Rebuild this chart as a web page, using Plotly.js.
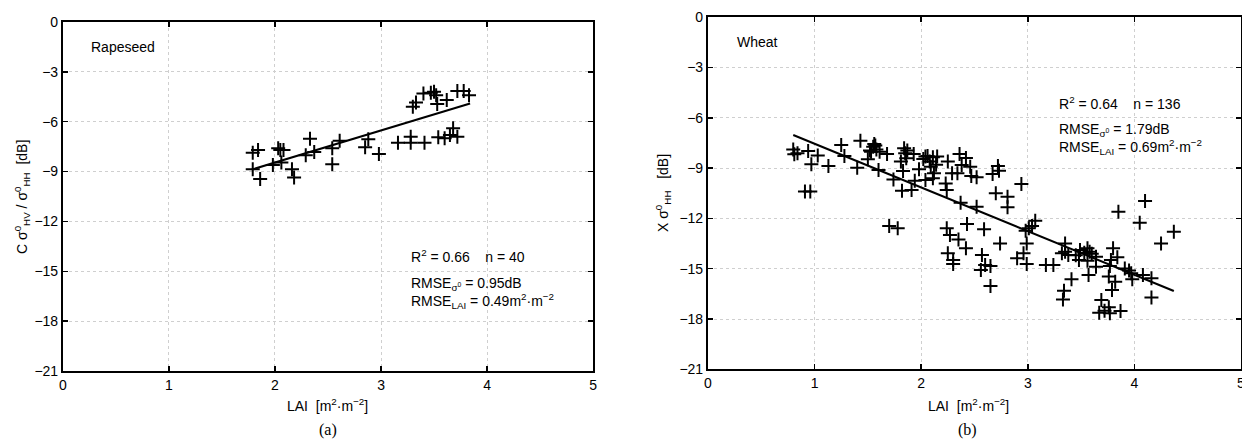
<!DOCTYPE html>
<html>
<head>
<meta charset="utf-8">
<script src="https://cdn.plot.ly/plotly-3.0.1.min.js"></script>
<style>html,body{margin:0;padding:0;background:#fff;}#chart{width:1242px;height:441px;}</style>
</head>
<body>
<div id="chart"></div>
<script>
// ---------- Data ----------
const xTicks = [0, 1, 2, 3, 4, 5];
const yTicks = [0, -3, -6, -9, -12, -15, -18, -21];

// (a) Rapeseed: LAI vs C-band cross ratio
const rapeLAI = [1.79,1.84,1.79,1.86,1.98,2.03,2.05,2.08,2.06,2.16,2.18,2.33,2.29,2.37,2.54,2.54,2.61,2.85,2.88,2.98,
  3.16,3.28,3.28,3.30,3.33,3.41,3.53,3.54,3.40,3.50,3.52,3.62,3.72,3.78,3.83,3.65,3.68,3.72,3.60,3.47];
const rapeCR = [-7.86,-7.70,-8.86,-9.45,-8.60,-7.60,-7.70,-7.70,-8.46,-8.86,-9.35,-7.02,-8.02,-7.82,-7.60,-8.56,-7.14,-7.54,-7.06,-7.94,
  -7.26,-6.90,-7.26,-5.10,-4.85,-7.26,-4.93,-6.94,-4.30,-4.20,-4.40,-4.70,-4.15,-4.15,-4.40,-6.80,-6.40,-6.90,-7.00,-4.25];
const rapeFitLAI = [1.78, 3.84];
const rapeFitCR = [-8.88, -4.90];

// (b) Wheat: LAI vs X-band HH
const wheatLAI = [0.80,0.81,0.84,0.94,1.03,0.97,0.91,0.96,1.13,1.25,1.28,1.43,1.40,1.50,1.53,1.55,1.58,1.61,1.56,1.68,
  1.60,1.74,1.82,1.84,1.85,1.86,1.81,1.93,1.83,1.91,1.94,1.70,1.78,2.04,1.98,2.04,
  2.06,2.11,2.15,2.09,2.12,2.11,2.23,2.24,2.25,2.36,2.38,2.29,2.34,2.46,2.47,2.52,2.37,2.52,2.67,2.72,2.73,2.70,2.81,2.81,
  2.94,2.24,2.27,2.35,2.43,2.42,2.59,2.25,2.30,2.30,2.57,2.56,2.60,2.65,2.65,2.74,2.90,2.96,2.99,2.99,2.98,3.01,3.04,3.07,3.17,3.24,
  3.85,4.10,4.05,4.25,4.37,3.35,3.35,3.32,3.38,3.41,3.34,3.33,3.49,3.48,3.56,3.58,3.56,3.57,3.64,3.64,3.69,3.67,3.76,3.77,3.87,
  3.80,3.84,3.78,3.77,3.76,3.82,3.79,3.91,3.97,3.98,4.08,4.16,4.16,
  1.52,1.57,2.02,2.08,3.53,3.45,2.14,3.72,1.87,3.60,2.42,3.95];
const wheatHH = [-7.88,-8.17,-8.11,-7.98,-8.24,-8.77,-10.40,-10.40,-8.87,-7.62,-8.28,-7.36,-8.97,-8.47,-8.02,-7.72,-7.88,-8.02,-7.56,-8.16,
  -9.11,-9.67,-10.35,-7.82,-8.11,-8.41,-8.61,-8.16,-9.17,-10.31,-9.75,-12.45,-12.59,-8.31,-9.07,-9.71,
  -8.28,-8.35,-8.31,-8.91,-9.31,-9.61,-9.91,-10.31,-8.61,-8.16,-8.81,-9.31,-9.31,-8.91,-9.47,-9.55,-11.06,-11.30,-9.35,-8.87,-9.15,-10.50,-10.70,-11.34,
  -9.95,-12.59,-12.99,-13.25,-12.33,-13.78,-12.65,-14.08,-14.48,-14.72,-14.18,-15.08,-14.78,-14.84,-16.03,-13.49,-14.38,-14.08,-14.72,-13.49,-12.73,-12.59,-12.45,-12.14,-14.78,-14.78,
  -11.60,-10.96,-12.26,-13.49,-12.79,-13.49,-13.99,-14.08,-14.18,-15.63,-16.31,-16.83,-13.89,-14.48,-13.78,-13.99,-14.52,-15.38,-14.28,-14.88,-16.87,-17.62,-17.30,-17.66,-17.52,
  -13.78,-14.32,-14.48,-14.84,-15.47,-15.78,-16.27,-14.98,-15.27,-15.63,-15.38,-15.57,-16.71,
  -7.95,-7.65,-8.45,-8.60,-14.05,-14.20,-8.80,-17.50,-7.95,-14.10,-8.40,-15.10];
const wheatFitLAI = [0.80, 4.37];
const wheatFitHH = [-7.02, -16.33];

// ---------- Styling ----------
const FONT = '"Liberation Sans", Arial, sans-serif';
const markerStyle = {symbol: 'cross-thin', size: 10, color: '#000', line: {width: 2, color: '#000'}};
const SP = '\u00a0\u00a0\u00a0\u00a0';

function axis(extra) {
  return Object.assign({
    showgrid: true, gridcolor: '#cfcfcf', griddash: 'dot', gridwidth: 1,
    zeroline: false, showline: true, linecolor: '#000', linewidth: 2, mirror: 'ticks',
    ticks: 'inside', ticklen: 5, tickwidth: 1.5, tickcolor: '#000',
    tickfont: {family: FONT, size: 14, color: '#000'}, fixedrange: true,
    ticklabeloverflow: 'allow'
  }, extra);
}

const traces = [
  {x: rapeLAI, y: rapeCR, mode: 'markers', marker: markerStyle, xaxis: 'x', yaxis: 'y', hoverinfo: 'skip'},
  {x: rapeFitLAI, y: rapeFitCR, mode: 'lines', line: {color: '#000', width: 2}, xaxis: 'x', yaxis: 'y', hoverinfo: 'skip'},
  {x: wheatLAI, y: wheatHH, mode: 'markers', marker: markerStyle, xaxis: 'x2', yaxis: 'y2', hoverinfo: 'skip'},
  {x: wheatFitLAI, y: wheatFitHH, mode: 'lines', line: {color: '#000', width: 2}, xaxis: 'x2', yaxis: 'y2', hoverinfo: 'skip'}
];

const txt = {family: FONT, size: 14, color: '#000'};
function ann(text, x, y, xref, yref, extra) {
  return Object.assign({text: text, x: x, y: y, xref: xref, yref: yref, showarrow: false,
    xanchor: 'left', yanchor: 'middle', font: txt, align: 'left'}, extra || {});
}
const serif = {family: '"Liberation Serif", "Times New Roman", serif', size: 16, color: '#000'};

const layout = {
  width: 1242, height: 441,
  margin: {l: 0, r: 0, t: 0, b: 0},
  paper_bgcolor: '#fff', plot_bgcolor: '#fff',
  showlegend: false,
  xaxis: axis({domain: [0.0507, 0.4775], range: [0, 5], tickvals: xTicks, anchor: 'y'}),
  yaxis: axis({domain: [0.1587, 0.9501], range: [-21, 0], tickvals: yTicks, anchor: 'x'}),
  xaxis2: axis({domain: [0.5700, 0.9992], range: [0, 5], tickvals: xTicks, anchor: 'y2'}),
  yaxis2: axis({domain: [0.1626, 0.9608], range: [-21, 0], tickvals: yTicks, anchor: 'x2'}),
  annotations: [
    ann('Rapeseed', 0.25, -1.5, 'x', 'y'),
    ann('R<sup>2</sup> = 0.66' + SP + 'n = 40', 3.26, -14.1, 'x', 'y'),
    ann('RMSE<sub>σ<sup>0</sup></sub> = 0.95dB', 3.26, -15.75, 'x', 'y'),
    ann('RMSE<sub>LAI</sub> = 0.49m<sup>2</sup>·m<sup>−2</sup>', 3.26, -16.8, 'x', 'y'),
    ann('Wheat', 0.25, -1.5, 'x2', 'y2'),
    ann('R<sup>2</sup> = 0.64' + SP + 'n = 136', 3.27, -5.1, 'x2', 'y2'),
    ann('RMSE<sub>σ<sup>0</sup></sub> = 1.79dB', 3.27, -6.7, 'x2', 'y2'),
    ann('RMSE<sub>LAI</sub> = 0.69m<sup>2</sup>·m<sup>−2</sup>', 3.27, -7.75, 'x2', 'y2'),
    // axis titles
    ann('LAI\u00a0\u00a0[m<sup>2</sup>·m<sup>−2</sup>]', 327/1242, 1 - 405/441, 'paper', 'paper', {xanchor: 'center'}),
    ann('LAI\u00a0\u00a0[m<sup>2</sup>·m<sup>−2</sup>]', 968/1242, 1 - 405/441, 'paper', 'paper', {xanchor: 'center'}),
    ann('C σ<sup>0</sup><sub>HV</sub> / σ<sup>0</sup><sub>HH</sub>\u00a0\u00a0[dB]', 22/1242, 1 - 197/441, 'paper', 'paper', {xanchor: 'center', textangle: -90}),
    ann('X σ<sup>0</sup><sub>HH</sub>\u00a0\u00a0\u00a0[dB]', 663/1242, 1 - 193/441, 'paper', 'paper', {xanchor: 'center', textangle: -90}),
    // captions
    ann('(a)', 328/1242, 1 - 430/441, 'paper', 'paper', {xanchor: 'center', font: serif}),
    ann('(b)', 967/1242, 1 - 430/441, 'paper', 'paper', {xanchor: 'center', font: serif})
  ]
};

Plotly.newPlot('chart', traces, layout, {staticPlot: true, displayModeBar: false});
</script>
</body>
</html>
